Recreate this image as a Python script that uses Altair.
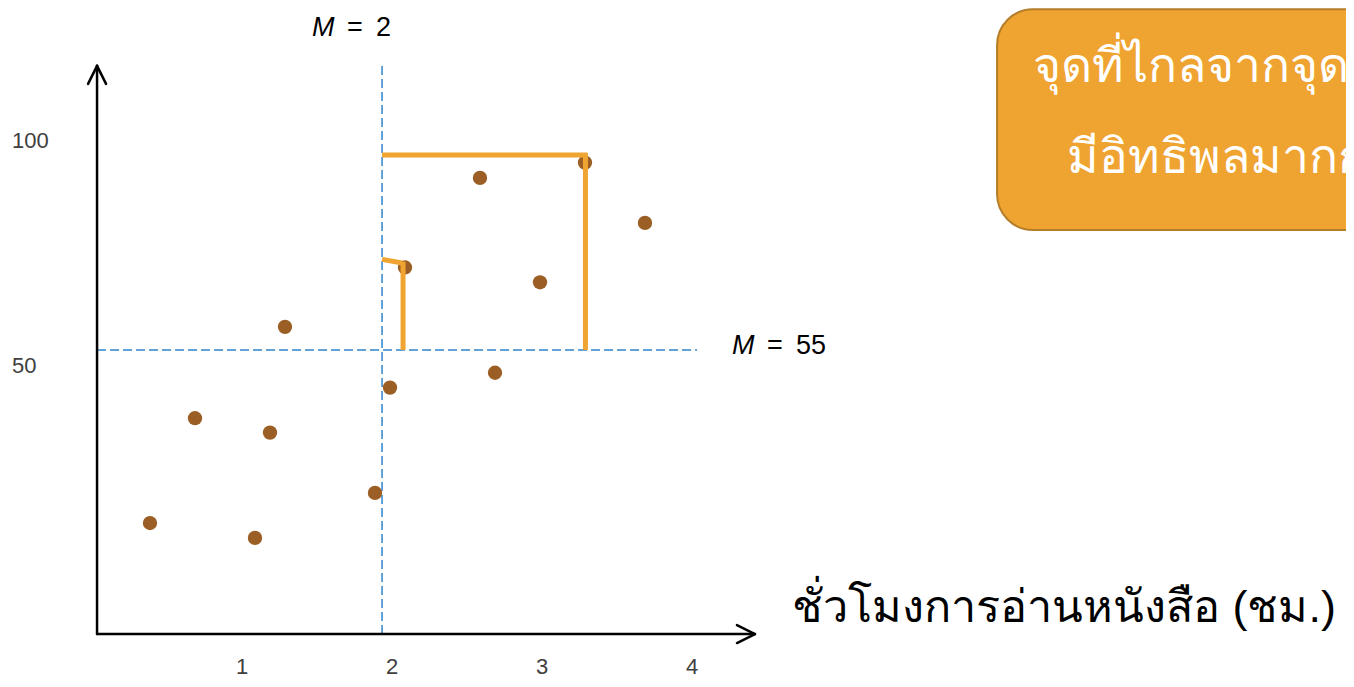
import altair as alt
import pandas as pd

# ---- data ----
hours = [0.4, 0.7, 1.1, 1.2, 1.3, 1.9, 2.0, 2.1, 2.6, 2.7, 3.0, 3.3, 3.7]
scores = [15.1, 38.4, 11.8, 35.2, 58.7, 21.8, 45.2, 71.9, 91.8, 48.5, 68.6, 95.2, 81.8]
x_ticks = [1, 2, 3, 4]
y_ticks = [100, 50]
mean_labels = ["2", "55"]
x_title = "ชั่วโมงการอ่านหนังสือ (ชม.)"
box_lines = ["จุดที่ไกลจากจุดศูนย์กลาง", "มีอิทธิพลมากกว่า"]

# ---- layout (data units) ----
W, H = 1338, 671
X_PX = 150.0   # pixels per hour
Y_PX = 4.5     # pixels per score point
X0 = 82.0      # plot px of hour 0
Y0 = 583.0     # plot px of score 0
xdom = [-X0 / X_PX, (W - X0) / X_PX]
ydom = [(Y0 - H) / Y_PX, Y0 / Y_PX]
xs = alt.Scale(domain=xdom, nice=False, zero=False)
ys = alt.Scale(domain=ydom, nice=False, zero=False)

AX_X, AX_Y = 0.047, -9.56          # axis corner
MX, MY = 1.947, 53.56              # drawn mean lines

def X(f="x"):
    return alt.X(f, type="quantitative", scale=xs, axis=None)

def Y(f="y"):
    return alt.Y(f, type="quantitative", scale=ys, axis=None)

segs = pd.DataFrame([
    dict(x=AX_X, y=AX_Y, x2=4.433, y2=AX_Y),
    dict(x=AX_X, y=AX_Y, x2=AX_X, y2=116.7),
    dict(x=AX_X, y=116.7, x2=-0.013, y2=112.7),
    dict(x=AX_X, y=116.7, x2=0.107, y2=112.7),
    dict(x=4.433, y=AX_Y, x2=4.313, y2=-7.56),
    dict(x=4.433, y=AX_Y, x2=4.313, y2=-11.56),
])
axis_layer = alt.Chart(segs).mark_rule(color="#000000", strokeWidth=2.5, strokeCap="round").encode(
    x=X(), y=Y(), x2="x2", y2="y2")

dash = pd.DataFrame([
    dict(x=MX, y=AX_Y, x2=MX, y2=116.9),
    dict(x=AX_X, y=MY, x2=4.047, y2=MY),
])
dash_layer = alt.Chart(dash).mark_rule(color="#2F84CC", strokeWidth=1.5, strokeDash=[9, 4]).encode(
    x=X(), y=Y(), x2="x2", y2="y2")

orange = pd.DataFrame([
    dict(x=MX, y=96.9, x2=3.316, y2=96.9),
    dict(x=3.303, y=97.3, x2=3.303, y2=MY),
    dict(x=MX, y=73.7, x2=2.08, y2=72.9),
    dict(x=2.087, y=73.2, x2=2.087, y2=MY),
])
orange_layer = alt.Chart(orange).mark_rule(color="#F0A532", strokeWidth=5).encode(
    x=X(), y=Y(), x2="x2", y2="y2")

pts = pd.DataFrame({"x": hours, "y": scores})
pt_layer = alt.Chart(pts).mark_circle(size=205, color="#9B5E24", opacity=1).encode(x=X(), y=Y())

xt = pd.DataFrame({"x": x_ticks, "y": [-19.5] * len(x_ticks), "t": [str(v) for v in x_ticks]})
xt_layer = alt.Chart(xt).mark_text(fontSize=22, font="Liberation Sans", color="#404040",
                                    baseline="bottom", dx=2).encode(x=X(), y=Y(), text="t:N")
yt = pd.DataFrame({"x": [-0.52] * len(y_ticks), "y": y_ticks, "t": [str(v) for v in y_ticks]})
yt_layer = alt.Chart(yt).mark_text(fontSize=22, font="Liberation Sans", color="#404040",
                                    align="left", baseline="middle").encode(x=X(), y=Y(), text="t:N")

mlab = pd.DataFrame({"x": [1.48, 4.28], "y": [123.3, 52.7], "t": mean_labels})
m_base = alt.Chart(mlab).encode(x=X(), y=Y())
m_italic = m_base.mark_text(text="M", fontSize=27, font="Liberation Sans", fontStyle="italic",
                            color="#000000", align="left", baseline="alphabetic")
m_eq = m_base.mark_text(text="=", fontSize=27, font="Liberation Sans", color="#000000",
                        align="left", baseline="alphabetic", dx=35)
m_num = m_base.mark_text(fontSize=27, font="Liberation Sans", color="#000000",
                         align="left", baseline="alphabetic", dx=64).encode(text="t:N")

title_df = pd.DataFrame({"x": [4.68], "y": [-6.9], "t": [x_title]})
title_layer = alt.Chart(title_df).mark_text(fontSize=45, color="#000000", align="left",
                                             baseline="alphabetic").encode(x=X(), y=Y(), text="t:N")

box = pd.DataFrame({"x": [6.047], "x2": [9.5], "y": [129.3], "y2": [80.2]})
box_layer = alt.Chart(box).mark_rect(fill="#EFA330", stroke="#B47D28", strokeWidth=2,
                                      cornerRadius=36, clip=True).encode(x=X(), x2="x2", y=Y(), y2="y2")
bt = pd.DataFrame({"x": [6.287, 6.513], "y": [113.1, 92.9], "t": box_lines})
bt_layer = alt.Chart(bt).mark_text(fontSize=48, color="#FFFFFF", align="left",
                                    baseline="alphabetic", clip=True).encode(x=X(), y=Y(), text="t:N")

chart = alt.layer(
    dash_layer, axis_layer, pt_layer, orange_layer, xt_layer, yt_layer,
    m_italic, m_eq, m_num, title_layer, box_layer, bt_layer
).properties(
    width=W, height=H, padding=0, autosize=alt.AutoSizeParams(type="none")
).configure_view(stroke=None)

chart.save("out.html", embed_options={"renderer": "svg", "actions": False})
